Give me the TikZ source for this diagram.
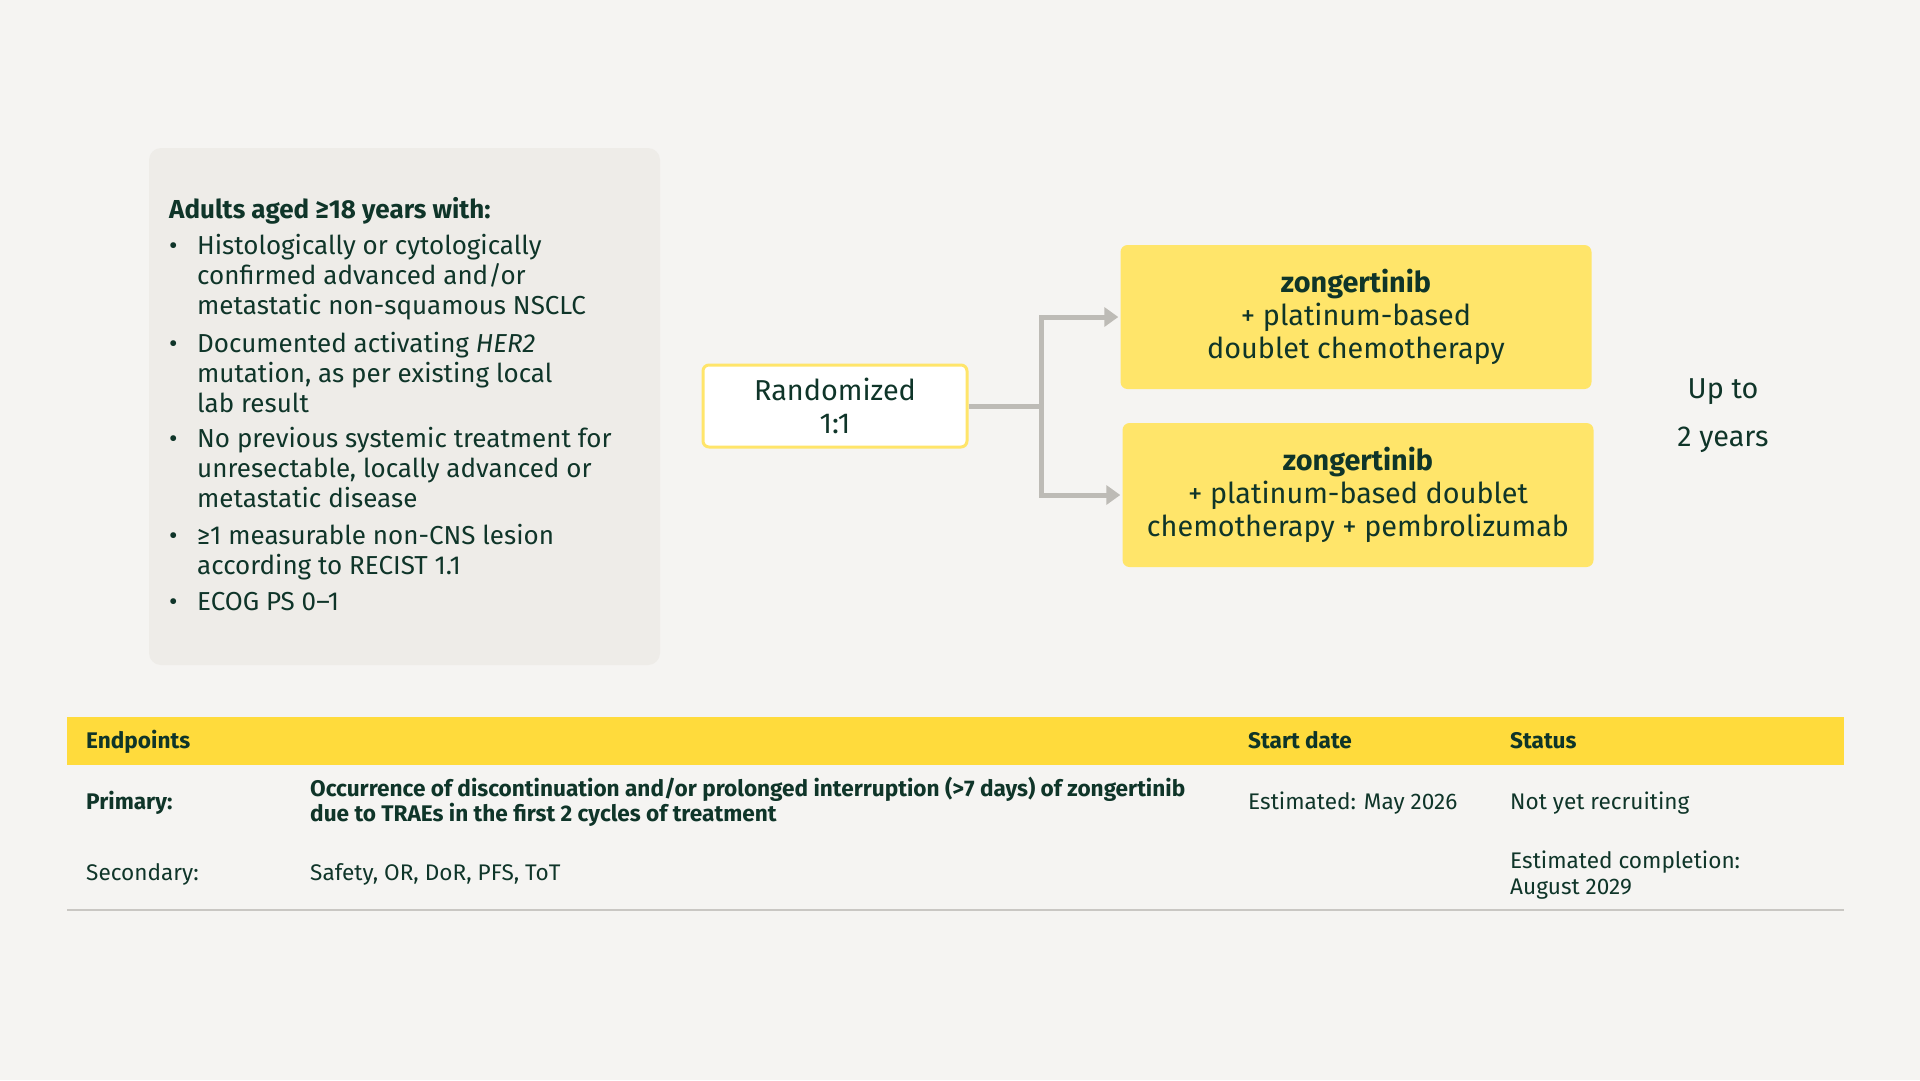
\documentclass[tikz,border=0pt]{standalone}
\usepackage{fontspec}
\setmainfont{Fira Sans}
\usepackage{xcolor}
\usetikzlibrary{arrows.meta}
\usetikzlibrary{positioning}
\definecolor{pagebg}{HTML}{F5F4F2}
\definecolor{panelgrey}{HTML}{EEECE8}
\definecolor{ink}{HTML}{0F3529}
\definecolor{armyellow}{HTML}{FFE56A}
\definecolor{headyellow}{HTML}{FFDB3C}
\definecolor{linkgrey}{HTML}{BDBBB6}
\definecolor{rulegrey}{HTML}{C9C7C3}
\def\armw{471pt}
\def\armh{144pt}
\newcommand\bodyfont{\fontsize{26}{30.2}\selectfont}
\newcommand\boxfont{\fontsize{28.8}{33}\selectfont}
\newcommand\tabfont{\fontsize{22.6}{24.5}\selectfont}

\begin{document}
\begin{tikzpicture}[x=1pt, y=-1pt,
	every node/.style={inner sep=0pt, text=ink},
	crit/.style={anchor=base west, font=\bodyfont},
	armbox/.style={fill=armyellow, rounded corners=7pt, minimum width=\armw, minimum height=\armh, align=center, font=\boxfont},
	randbox/.style={fill=white, draw=armyellow, line width=3pt, rounded corners=6pt, minimum width=264pt, minimum height=82pt, align=center, font=\boxfont},
	link/.style={draw=linkgrey, line width=5pt},
	cell/.style={anchor=base west, font=\tabfont}]
	% page and panels
	\fill[pagebg] (0,0) rectangle (1920,1080);
	\fill[panelgrey, rounded corners=12pt] (149,148) rectangle (660,665);
	\fill[headyellow] (67,717) rectangle (1844,765);
	\draw[rulegrey, line width=1.5pt] (67,910) -- (1844,910);
	% inclusion criteria
	\node[crit, font=\bodyfont\bfseries] (crithead) at (169,218) {Adults aged ≥18 years with:};
	\node[crit] (crit1) at (169,254) {\begin{tabular}[t]{@{}p{28pt}@{}l@{}}
		\textbullet & Histologically or cytologically\\
		& confirmed advanced and/or\\
		& metastatic non-squamous NSCLC\end{tabular}};
	\node[crit] (crit2) at (169,352) {\begin{tabular}[t]{@{}p{28pt}@{}l@{}}
		\textbullet & Documented activating \textit{HER2}\\
		& mutation, as per existing local\\
		& lab result\end{tabular}};
	\node[crit] (crit3) at (169,447) {\begin{tabular}[t]{@{}p{28pt}@{}l@{}}
		\textbullet & No previous systemic treatment for\\
		& unresectable, locally advanced or\\
		& metastatic disease\end{tabular}};
	\node[crit] (crit4) at (169,544) {\begin{tabular}[t]{@{}p{28pt}@{}l@{}}
		\textbullet & ≥1 measurable non-CNS lesion\\
		& according to RECIST 1.1\end{tabular}};
	\node[crit] (crit5) at (169,610) {\begin{tabular}[t]{@{}p{28pt}@{}l@{}}
		\textbullet & ECOG PS 0–1\end{tabular}};
	% randomization
	\node[randbox] (rand) at (835,406) {Randomized\\1:1};
	\node[armbox] (arm1) at (1356,317) {\textbf{zongertinib}\\+ platinum-based\\doublet chemotherapy};
	\node[armbox] (arm2) at (1358,495) {\textbf{zongertinib}\\+ platinum-based doublet\\chemotherapy + pembrolizumab};
	\node[align=center, font=\fontsize{28.8}{48}\selectfont] (dur) at (1723,416) {Up to\\2 years};
	\coordinate[right=73pt of rand.east] (split);
	\draw[link] (rand.east) -- (split);
	\draw[link, -{Triangle[length=14pt, width=19pt]}, shorten >=2pt] (split) |- (arm1.west);
	\draw[link, -{Triangle[length=14pt, width=19pt]}, shorten >=2pt] (split) |- (arm2.west);
	% endpoints table
	\node[cell, font=\tabfont\bfseries] (hdend) at (86,748) {Endpoints};
	\node[cell, font=\tabfont\bfseries] (hdstart) at (1248,748) {Start date};
	\node[cell, font=\tabfont\bfseries] (hdstatus) at (1510,748) {Status};
	\node[cell, font=\tabfont\bfseries] (prim) at (86,809) {Primary:};
	\node[cell, font=\tabfont\bfseries] (primtext) at (310,796) {\begin{tabular}[t]{@{}l@{}}
		Occurrence of discontinuation and/or prolonged interruption (>7 days) of zongertinib\\
		due to TRAEs in the first 2 cycles of treatment\end{tabular}};
	\node[cell] (start) at (1248,809) {Estimated: May 2026};
	\node[cell] (status) at (1510,809) {Not yet recruiting};
	\node[cell] (sec) at (86,880) {Secondary:};
	\node[cell] (sectext) at (310,880) {Safety, OR, DoR, PFS, ToT};
	\node[cell, font=\fontsize{22.6}{26}\selectfont] (compl) at (1510,868) {\begin{tabular}[t]{@{}l@{}}
		Estimated completion:\\
		August 2029\end{tabular}};
\end{tikzpicture}
\end{document}
